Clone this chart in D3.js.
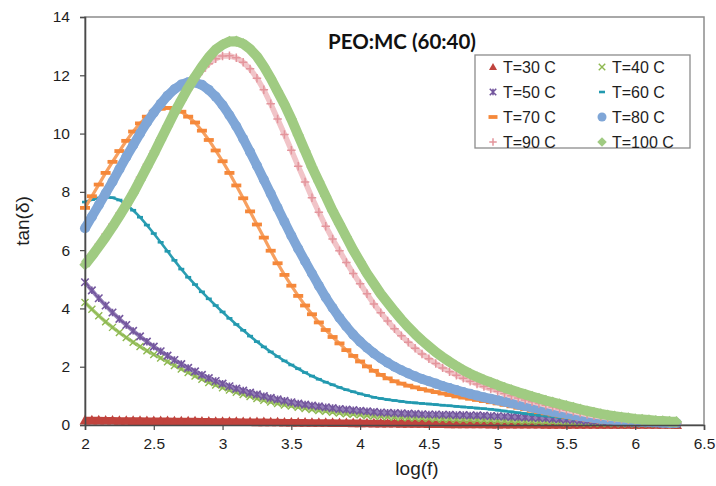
<!DOCTYPE html>
<html><head><meta charset="utf-8">
<script src="https://cdn.jsdelivr.net/npm/d3@7"></script>
<style>body{margin:0;background:#fff}svg{display:block}</style>
</head><body><svg id="c" width="716" height="486"></svg>
<script>
const logF = [2.0,2.05,2.1,2.15,2.2,2.25,2.3,2.35,2.4,2.45,2.5,2.55,2.6,2.65,2.7,2.75,2.8,2.85,2.9,2.95,3.0,3.05,3.1,3.15,3.2,3.25,3.3,3.35,3.4,3.45,3.5,3.55,3.6,3.65,3.7,3.75,3.8,3.85,3.9,3.95,4.0,4.05,4.1,4.15,4.2,4.25,4.3,4.35,4.4,4.45,4.5,4.55,4.6,4.65,4.7,4.75,4.8,4.85,4.9,4.95,5.0,5.05,5.1,5.15,5.2,5.25,5.3,5.35,5.4,5.45,5.5,5.55,5.6,5.65,5.7,5.75,5.8,5.85,5.9,5.95,6.0,6.05,6.1,6.15,6.2,6.25,6.3];
const seriesNames = ["T=30 C","T=40 C","T=50 C","T=60 C","T=70 C","T=80 C","T=90 C","T=100 C"];
const t30 = [0.16,0.16,0.16,0.155,0.155,0.15,0.15,0.145,0.145,0.14,0.14,0.135,0.135,0.13,0.13,0.125,0.125,0.12,0.12,0.115,0.115,0.11,0.11,0.105,0.105,0.1,0.1,0.095,0.095,0.09,0.09,0.085,0.085,0.08,0.08,0.078,0.075,0.072,0.07,0.068,0.065,0.062,0.06,0.058,0.055,0.052,0.05,0.048,0.045,0.043,0.04,0.038,0.036,0.034,0.032,0.03,0.028,0.027,0.026,0.025,0.024,0.023,0.022,0.021,0.02,0.019,0.018,0.017,0.016,0.015,0.015,0.014,0.014,0.013,0.013,0.012,0.012,0.011,0.011,0.01,0.01,0.01,0.01,0.009,0.009,0.009,0.008];
const t40 = [4.2,3.97,3.75,3.54,3.35,3.17,3.0,2.84,2.69,2.55,2.42,2.3,2.17,2.04,1.92,1.8,1.68,1.57,1.46,1.37,1.28,1.2,1.12,1.05,0.98,0.91,0.85,0.79,0.74,0.69,0.65,0.61,0.57,0.53,0.5,0.47,0.44,0.41,0.39,0.37,0.35,0.33,0.31,0.3,0.28,0.27,0.26,0.25,0.24,0.23,0.22,0.21,0.2,0.2,0.19,0.18,0.18,0.17,0.16,0.16,0.15,0.14,0.14,0.13,0.12,0.12,0.11,0.1,0.1,0.09,0.08,0.08,0.07,0.07,0.06,0.06,0.05,0.05,0.04,0.04,0.04,0.03,0.03,0.03,0.03,0.02,0.02];
const t50 = [4.9,4.62,4.35,4.1,3.86,3.64,3.43,3.23,3.04,2.86,2.69,2.53,2.38,2.23,2.09,1.96,1.84,1.72,1.61,1.51,1.42,1.33,1.25,1.18,1.11,1.05,0.99,0.93,0.88,0.83,0.78,0.74,0.7,0.67,0.64,0.61,0.58,0.55,0.53,0.51,0.49,0.47,0.45,0.43,0.42,0.41,0.4,0.39,0.38,0.37,0.36,0.36,0.35,0.35,0.34,0.34,0.33,0.33,0.32,0.31,0.3,0.29,0.28,0.27,0.26,0.25,0.24,0.23,0.21,0.2,0.18,0.17,0.15,0.14,0.12,0.11,0.1,0.09,0.08,0.07,0.06,0.06,0.05,0.05,0.04,0.04,0.04];
const t60 = [7.65,7.73,7.79,7.82,7.8,7.72,7.57,7.37,7.13,6.86,6.57,6.27,5.96,5.65,5.35,5.07,4.82,4.57,4.33,4.1,3.88,3.66,3.45,3.25,3.05,2.86,2.68,2.51,2.35,2.2,2.06,1.93,1.8,1.68,1.57,1.47,1.38,1.29,1.21,1.14,1.07,1.01,0.95,0.91,0.87,0.84,0.81,0.78,0.76,0.74,0.72,0.7,0.68,0.66,0.64,0.62,0.6,0.58,0.56,0.54,0.51,0.48,0.45,0.42,0.39,0.36,0.34,0.31,0.29,0.26,0.24,0.21,0.19,0.17,0.15,0.13,0.12,0.1,0.09,0.08,0.07,0.06,0.06,0.05,0.05,0.04,0.04];
const t70 = [7.45,7.85,8.25,8.65,9.03,9.4,9.75,10.07,10.35,10.58,10.75,10.85,10.88,10.85,10.75,10.58,10.38,10.1,9.78,9.42,9.05,8.65,8.22,7.78,7.33,6.88,6.43,5.98,5.55,5.15,4.78,4.43,4.1,3.8,3.52,3.26,3.02,2.8,2.57,2.37,2.18,2.01,1.86,1.72,1.6,1.5,1.42,1.35,1.29,1.23,1.18,1.13,1.08,1.03,0.98,0.94,0.9,0.86,0.82,0.78,0.74,0.69,0.64,0.59,0.54,0.49,0.44,0.4,0.36,0.32,0.28,0.24,0.21,0.18,0.15,0.12,0.1,0.09,0.08,0.07,0.06,0.05,0.05,0.04,0.04,0.04,0.03];
const t80 = [6.75,7.15,7.55,7.95,8.35,8.78,9.2,9.6,10.0,10.38,10.72,11.02,11.3,11.52,11.68,11.76,11.75,11.67,11.5,11.27,10.98,10.63,10.25,9.82,9.37,8.9,8.42,7.94,7.45,6.97,6.5,6.05,5.62,5.2,4.78,4.38,4.02,3.68,3.38,3.1,2.86,2.65,2.46,2.29,2.14,2.0,1.88,1.77,1.67,1.58,1.5,1.42,1.34,1.27,1.2,1.13,1.07,1.01,0.95,0.9,0.85,0.8,0.75,0.7,0.65,0.6,0.55,0.51,0.46,0.42,0.38,0.34,0.3,0.27,0.24,0.21,0.19,0.17,0.15,0.13,0.12,0.11,0.1,0.09,0.08,0.07,0.07];
const t90 = [5.55,5.88,6.2,6.55,6.9,7.27,7.65,8.05,8.5,8.95,9.4,9.85,10.3,10.75,11.15,11.5,11.85,12.15,12.4,12.57,12.66,12.67,12.6,12.45,12.22,11.9,11.5,11.02,10.5,9.97,9.43,8.88,8.34,7.8,7.3,6.82,6.38,5.98,5.58,5.2,4.85,4.5,4.15,3.85,3.57,3.3,3.06,2.84,2.63,2.44,2.27,2.11,1.96,1.83,1.71,1.6,1.5,1.41,1.32,1.24,1.16,1.08,1.0,0.93,0.86,0.8,0.74,0.68,0.62,0.56,0.51,0.46,0.41,0.36,0.32,0.28,0.25,0.22,0.2,0.18,0.16,0.14,0.13,0.12,0.11,0.1,0.09];
const t100 = [5.5,5.8,6.12,6.45,6.8,7.17,7.55,7.95,8.4,8.85,9.3,9.78,10.25,10.72,11.15,11.57,11.95,12.3,12.62,12.88,13.05,13.16,13.17,13.08,12.9,12.65,12.3,11.9,11.45,11.0,10.5,9.95,9.4,8.85,8.35,7.85,7.35,6.9,6.45,6.0,5.6,5.2,4.85,4.5,4.2,3.9,3.62,3.36,3.12,2.9,2.7,2.5,2.33,2.17,2.02,1.88,1.76,1.65,1.55,1.46,1.37,1.28,1.2,1.12,1.05,0.98,0.91,0.84,0.78,0.72,0.66,0.6,0.54,0.48,0.43,0.38,0.34,0.3,0.27,0.24,0.21,0.19,0.17,0.15,0.14,0.12,0.11];
const yTicks = [0,2,4,6,8,10,12,14];
const xTicks = [2,2.5,3,3.5,4,4.5,5,5.5,6,6.5];
const chartTitle = "PEO:MC (60:40)";
const xLabel = "log(f)";
const yLabel = "tan(\u03b4)";

// custom marker shapes
const symTimes = {draw(c, s){const r=Math.sqrt(s)/2; c.moveTo(-r,-r); c.lineTo(r,r); c.moveTo(r,-r); c.lineTo(-r,r);}};
const symStar = {draw(c, s){const r=Math.sqrt(s)/2; c.moveTo(-r,-r); c.lineTo(r,r); c.moveTo(r,-r); c.lineTo(-r,r); c.moveTo(0,-r); c.lineTo(0,r);}};
const symPlus = {draw(c, s){const r=Math.sqrt(s)/2; c.moveTo(-r,0); c.lineTo(r,0); c.moveTo(0,-r); c.lineTo(0,r);}};
const symDash = {draw(c, s){const r=Math.sqrt(s)/2; c.moveTo(-r,0); c.lineTo(r,0);}};
const symTri = {draw(c, s){const r=Math.sqrt(s)/2; c.moveTo(0,-r); c.lineTo(r,r*0.75); c.lineTo(-r,r*0.75); c.closePath();}};
const symDiamond = {draw(c, s){const r=Math.sqrt(s)/2; c.moveTo(0,-r); c.lineTo(r,0); c.lineTo(0,r); c.lineTo(-r,0); c.closePath();}};

// size = (marker width)^2 ; lw = width of the band under the markers
const styles = [
  {vals:t30, color:"#C0433D", band:"#C0433D", type:symTri, size:121, leg:64, fill:true, sw:0, lw:7},
  {vals:t40, color:"#8EB850", band:"#A9CB7A", type:symTimes, size:49, leg:42, fill:false, sw:1.4, lw:3.5},
  {vals:t50, color:"#74579E", band:"#9580B8", type:symStar, size:56, leg:42, fill:false, sw:1.6, lw:4},
  {vals:t60, color:"#2299AF", band:"#2A9DB2", type:symDash, size:36, leg:36, fill:false, sw:2.6, lw:2.6},
  {vals:t70, color:"#F5883A", band:"#F7A060", type:symDash, size:100, leg:81, fill:false, sw:3.8, lw:3.2},
  {vals:t80, color:"#7FA6D7", band:"#7FA6D7", type:d3.symbolCircle, size:80, leg:64, fill:true, sw:0, lw:9.5},
  {vals:t90, color:"#E4959C", band:"#F1C4C8", type:symPlus, size:72, leg:56, fill:false, sw:1.5, lw:5.5},
  {vals:t100, color:"#A0CB82", band:"#A0CB82", type:symDiamond, size:130, leg:90, fill:true, sw:0, lw:10}
];

const svg = d3.select("#c");
const x = d3.scaleLinear().domain([2,6.5]).range([85,704]);
const y = d3.scaleLinear().domain([0,14]).range([425,17]);
const font = "'Liberation Sans', Arial, sans-serif";

// plot frame
svg.append("rect").attr("x",x(2)).attr("y",y(14)).attr("width",x(6.5)-x(2)).attr("height",y(0)-y(14))
  .attr("fill","none").attr("stroke","#8c8c8c").attr("stroke-width",1.5);

// series
const line = d3.line().x((d,i)=>x(logF[i])).y(d=>y(d));
const plot = svg.append("g");
styles.forEach((s)=>{
  const g = plot.append("g");
  g.append("path").datum(s.vals).attr("d",line).attr("fill","none")
    .attr("stroke",s.band).attr("stroke-width",s.lw).attr("stroke-linejoin","round");
  const sym = d3.symbol().type(s.type).size(s.size);
  g.selectAll("path.m").data(s.vals).join("path").attr("class","m")
    .attr("transform",(d,i)=>`translate(${x(logF[i])},${y(d)})`)
    .attr("d",sym)
    .attr("fill", s.fill ? s.color : "none")
    .attr("stroke", s.fill ? "none" : s.color)
    .attr("stroke-width", s.sw);
});

// axes
const yAxis = svg.append("g").attr("transform",`translate(${x(2)},0)`)
  .call(d3.axisLeft(y).tickValues(yTicks).tickSize(5).tickPadding(10).tickFormat(d3.format("d")));
const xAxis = svg.append("g").attr("transform",`translate(0,${y(0)})`)
  .call(d3.axisBottom(x).tickValues(xTicks).tickSize(5).tickPadding(8).tickFormat(d=>String(d)));
[yAxis,xAxis].forEach(a=>{
  a.select(".domain").attr("stroke","#4a4a4a").attr("stroke-width",1.6);
  a.selectAll(".tick line").attr("stroke","#4a4a4a").attr("stroke-width",1.2);
  a.selectAll("text").attr("font-family",font).attr("font-size",15.5).attr("fill","#1e1e1e");
});

// axis titles
svg.append("text").attr("x",417).attr("y",475).attr("text-anchor","middle")
  .attr("font-family",font).attr("font-size",19).attr("fill","#1e1e1e").text(xLabel);
svg.append("text").attr("transform","translate(29,221) rotate(-90)").attr("text-anchor","middle")
  .attr("font-family",font).attr("font-size",19).attr("fill","#1e1e1e").text(yLabel);

// chart title
svg.append("text").attr("x",328).attr("y",49).attr("font-family","Lato, 'Open Sans', sans-serif")
  .attr("font-weight","bold").attr("font-size",20).attr("fill","#111")
  .attr("textLength",148).attr("lengthAdjust","spacingAndGlyphs").text(chartTitle);

// legend
const lg = svg.append("g");
lg.append("rect").attr("x",475).attr("y",55).attr("width",215).attr("height",93)
  .attr("fill","#fff").attr("stroke","#8c8c8c").attr("stroke-width",1.3);
seriesNames.forEach((n,i)=>{
  const s = styles[i];
  const col = i%2, row = Math.floor(i/2);
  const mx = col===0 ? 493 : 602, ty = 67 + row*25;
  lg.append("path").attr("transform",`translate(${mx},${ty})`)
    .attr("d",d3.symbol().type(s.type).size(s.leg)())
    .attr("fill", s.fill ? s.color : "none")
    .attr("stroke", s.fill ? "none" : s.color)
    .attr("stroke-width", s.sw);
  lg.append("text").attr("x",mx+10).attr("y",ty).attr("dy","0.36em")
    .attr("font-family",font).attr("font-size",16).attr("fill","#1e1e1e").text(n);
});
</script></body></html>
